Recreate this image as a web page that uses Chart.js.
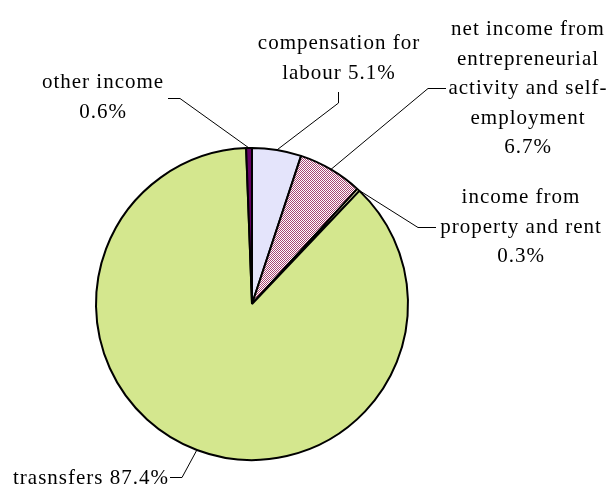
<!DOCTYPE html>
<html>
<head>
<meta charset="utf-8">
<script src="https://cdn.jsdelivr.net/npm/chart.js@4"></script>
<style>
  html, body { margin: 0; padding: 0; background: #fff; }
  canvas { display: block; }
</style>
</head>
<body>
<canvas id="pie" width="609" height="488"></canvas>
<script>
// slices, clockwise from 12 o'clock
const labels = [
  'compensation for labour',
  'net income from entrepreneurial activity and self-employment',
  'income from property and rent',
  'trasnsfers',
  'other income',
];
const values = [5.1, 6.7, 0.3, 87.4, 0.6];

// how each label is broken into lines (the last line gets the percentage)
const labelLines = [
  ['compensation for', 'labour '],
  ['net income from', 'entrepreneurial', 'activity and self-', 'employment', ''],
  ['income from', 'property and rent', ''],
  ['trasnsfers '],
  ['other income', ''],
];

const C = {
  lavender: '#e4e4fb',
  hatch: '#a84673',
  yellow: '#ffffc4',
  green: '#d4e78e',
  purple: '#660066',
  ink: '#000',
};

function hatchPattern() {
  const c = document.createElement('canvas');
  c.width = 2; c.height = 2;
  const g = c.getContext('2d');
  g.fillStyle = '#fff';
  g.fillRect(0, 0, 2, 2);
  g.fillStyle = C.hatch;
  g.fillRect(0, 0, 1, 1);
  g.fillRect(1, 1, 1, 1);
  return g.createPattern(c, 'repeat');
}

// label placement: text centre x, first baseline y, and leader elbow points (from pie outwards)
const place = [
  { x: 339, y: 49, elbow: [[338.5, 103], [338.5, 92]] },
  { x: 528, y: 35, elbow: [[428, 88.5], [446, 88.5]] },
  { x: 521, y: 203, elbow: [[418, 227.5], [436, 227.5]] },
  { x: 91, y: 484, elbow: [[182, 477.5], [170, 477.5]] },
  { x: 103, y: 88, elbow: [[180, 98.5], [168, 98.5]] },
];
const LINE_H = 29.5;

const labelPlugin = {
  id: 'sliceLabels',
  afterDraw(chart) {
    const ctx = chart.ctx;
    const arcs = chart.getDatasetMeta(0).data;
    ctx.save();
    ctx.font = '21px "Liberation Serif", "Times New Roman", serif';
    ctx.letterSpacing = '1px';
    ctx.fillStyle = C.ink;
    ctx.textAlign = 'center';
    ctx.textBaseline = 'alphabetic';
    labelLines.forEach((lines, i) => {
      const p = place[i];
      lines.forEach((t, j) => {
        const txt = j === lines.length - 1 ? t + values[i].toFixed(1) + '%' : t;
        ctx.fillText(txt, p.x, p.y + j * LINE_H);
      });
      // leader line from the middle of the slice's outer edge
      const a = arcs[i];
      const mid = (a.startAngle + a.endAngle) / 2;
      const r = a.outerRadius;
      ctx.beginPath();
      ctx.lineWidth = 1;
      ctx.strokeStyle = C.ink;
      ctx.moveTo(a.x + Math.cos(mid) * r, a.y + Math.sin(mid) * r);
      p.elbow.forEach(([ex, ey]) => ctx.lineTo(ex, ey));
      ctx.stroke();
    });
    ctx.restore();
  },
};

new Chart(document.getElementById('pie'), {
  type: 'pie',
  data: {
    labels: labels,
    datasets: [{
      data: values,
      backgroundColor: [C.lavender, hatchPattern(), C.yellow, C.green, C.purple],
      borderColor: C.ink,
      borderWidth: 2,
    }],
  },
  options: {
    responsive: false,
    animation: false,
    layout: { padding: { left: 95, right: 200, top: 147, bottom: 27 } },
    plugins: { legend: { display: false }, tooltip: { enabled: false } },
  },
  plugins: [labelPlugin],
});
</script>
</body>
</html>
